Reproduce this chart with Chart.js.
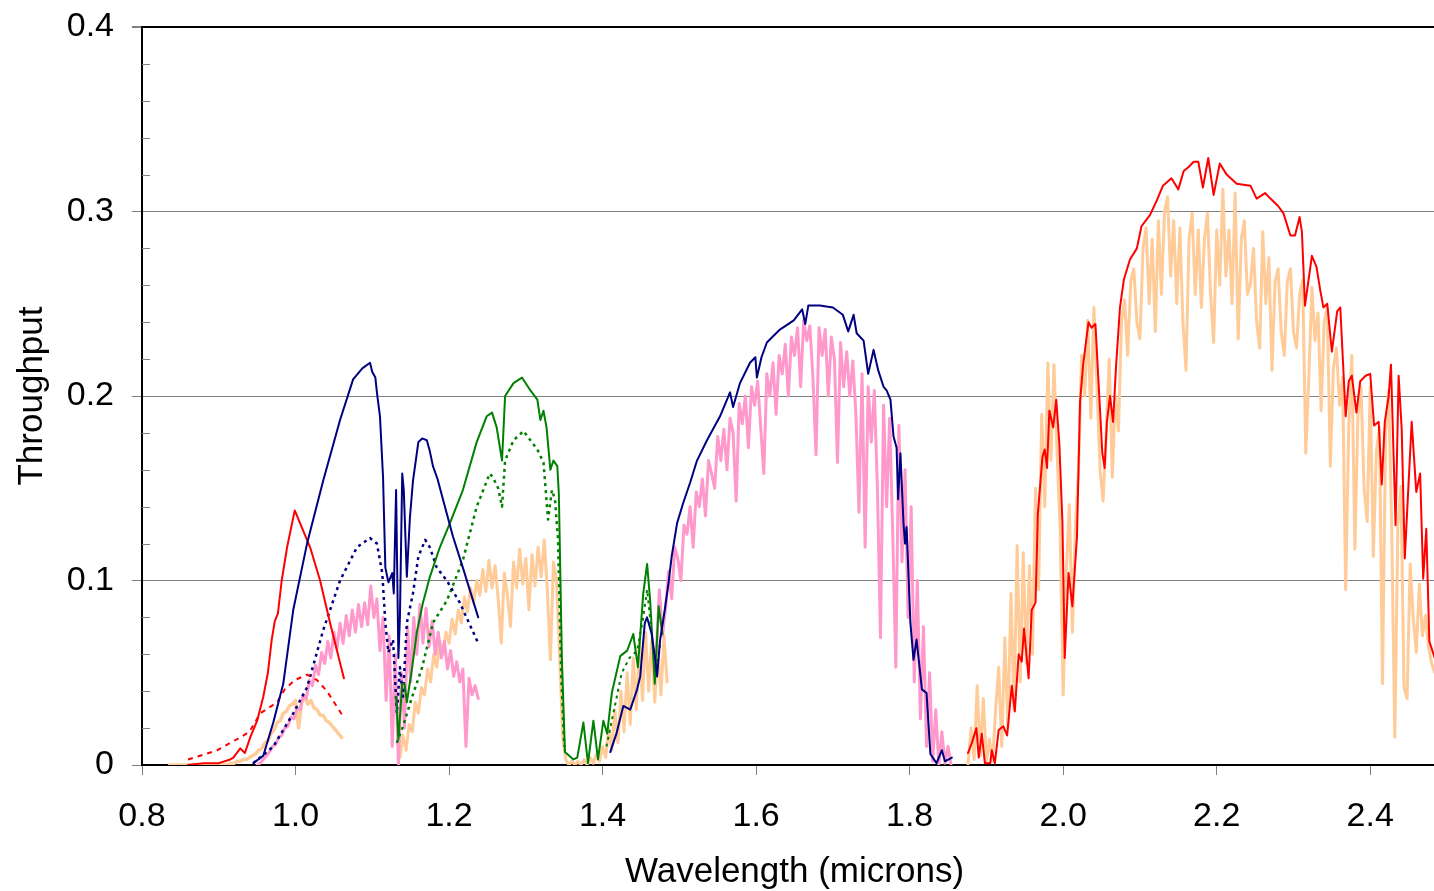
<!DOCTYPE html>
<html><head><meta charset="utf-8">
<script src="https://cdn.jsdelivr.net/npm/chart.js@4.4.1/dist/chart.umd.min.js"></script>
<style>
html,body{margin:0;padding:0;overflow:hidden;background:#fff;width:1434px;height:891px}
#wrap{position:absolute;left:0;top:0;width:1460px;height:891px}
</style></head>
<body><div id="wrap"><canvas id="c" width="1460" height="891"></canvas></div>
<script>
// ---------------- DATA ----------------
const xTickValues = [0.8, 1.0, 1.2, 1.4, 1.6, 1.8, 2.0, 2.2, 2.4];
const yTickValues = [0, 0.1, 0.2, 0.3, 0.4];
const yMinorValues = [0.02,0.04,0.06,0.08,0.12,0.14,0.16,0.18,0.22,0.24,0.26,0.28,0.32,0.34,0.36,0.38];

// Red solid (Z filter)
const redZWave = [0.860,0.880,0.900,0.915,0.919,0.928,0.934,0.941,0.950,0.958,0.964,0.969,0.973,0.977,0.982,0.989,0.999,1.019,1.032,1.045,1.063];
const redZThru = [0.000,0.001,0.001,0.003,0.004,0.009,0.0065,0.015,0.024,0.037,0.050,0.068,0.078,0.082,0.100,0.118,0.138,0.118,0.100,0.077,0.047];
// Red dashed (Z)
const redZDashWave = [0.860,0.898,0.928,0.940,0.954,0.976,0.986,0.999,1.015,1.028,1.041,1.061];
const redZDashThru = [0.003,0.008,0.015,0.018,0.028,0.034,0.041,0.046,0.049,0.046,0.040,0.027];

// Navy solid (Y band)
const navyYWave = [0.945,0.958,0.971,0.984,0.997,1.015,1.036,1.058,1.075,1.087,1.097,1.100,1.104,1.106,1.110,1.114,1.117,1.121,1.126,1.128,1.131,1.134,1.136,1.139,1.141,1.145,1.149,1.153,1.160,1.165,1.171,1.175,1.179,1.185,1.192,1.205,1.218,1.238];
const navyYThru = [0.001,0.005,0.023,0.044,0.084,0.120,0.154,0.187,0.209,0.215,0.218,0.213,0.210,0.202,0.189,0.156,0.107,0.099,0.104,0.093,0.149,0.058,0.080,0.158,0.149,0.102,0.134,0.154,0.175,0.177,0.176,0.170,0.162,0.155,0.144,0.124,0.107,0.080];
// Navy dotted (Y band)
const navyDotYWave = [0.945,0.971,0.997,1.015,1.036,1.058,1.080,1.097,1.106,1.113,1.117,1.121,1.127,1.132,1.136,1.140,1.145,1.153,1.160,1.169,1.175,1.184,1.197,1.214,1.238];
const navyDotYThru = [0.001,0.010,0.028,0.042,0.073,0.100,0.118,0.123,0.120,0.104,0.077,0.061,0.068,0.028,0.053,0.037,0.077,0.093,0.113,0.122,0.118,0.107,0.100,0.088,0.066];

// Green solid (J band)
const greenJWave = [1.131,1.134,1.139,1.142,1.145,1.152,1.158,1.166,1.175,1.188,1.201,1.218,1.236,1.249,1.256,1.262,1.269,1.273,1.284,1.295,1.306,1.315,1.319,1.323,1.327,1.332,1.336,1.341,1.343,1.347,1.351,1.362,1.367,1.375,1.381,1.388,1.394,1.401,1.406,1.412,1.423,1.432,1.440,1.446,1.453,1.458,1.462,1.468,1.473,1.478];
const greenJThru = [0.037,0.014,0.044,0.044,0.034,0.053,0.072,0.088,0.102,0.118,0.131,0.149,0.175,0.189,0.191,0.183,0.165,0.200,0.207,0.210,0.203,0.198,0.187,0.192,0.183,0.160,0.165,0.162,0.147,0.057,0.007,0.003,0.004,0.023,0.001,0.024,0.003,0.024,0.017,0.039,0.059,0.062,0.071,0.053,0.093,0.109,0.089,0.044,0.086,0.071];
// Green dotted (J band)
const greenDotWave = [1.132,1.140,1.152,1.165,1.179,1.197,1.218,1.236,1.253,1.257,1.264,1.269,1.273,1.284,1.297,1.306,1.315,1.323,1.329,1.334,1.338,1.342,1.346,1.350];
const greenDotThru = [0.012,0.021,0.037,0.053,0.077,0.089,0.111,0.140,0.158,0.156,0.150,0.140,0.165,0.176,0.181,0.176,0.171,0.164,0.133,0.149,0.144,0.122,0.050,0.010];
const greenDotHWave = [1.405,1.415,1.425,1.435,1.445,1.453,1.458,1.464,1.470,1.475];
const greenDotHThru = [0.010,0.030,0.050,0.058,0.062,0.080,0.095,0.071,0.050,0.065];

// Navy solid (H band)
const navyHWave = [1.410,1.418,1.427,1.436,1.445,1.449,1.455,1.458,1.464,1.468,1.471,1.475,1.481,1.486,1.490,1.497,1.505,1.514,1.523,1.536,1.553,1.566,1.570,1.579,1.592,1.599,1.601,1.607,1.614,1.631,1.649,1.660,1.664,1.668,1.683,1.700,1.713,1.720,1.727,1.731,1.740,1.746,1.753,1.759,1.766,1.770,1.775,1.779,1.783,1.785,1.788,1.792,1.794,1.796,1.801,1.805,1.809,1.816,1.822,1.827,1.835,1.842,1.846,1.855];
const navyHThru = [0.007,0.017,0.032,0.030,0.041,0.048,0.077,0.080,0.071,0.059,0.048,0.068,0.084,0.099,0.113,0.131,0.142,0.153,0.165,0.176,0.189,0.202,0.194,0.207,0.218,0.221,0.210,0.221,0.229,0.236,0.241,0.247,0.239,0.249,0.249,0.248,0.244,0.235,0.244,0.234,0.230,0.212,0.225,0.214,0.205,0.203,0.198,0.178,0.172,0.144,0.169,0.131,0.120,0.129,0.077,0.057,0.068,0.041,0.039,0.006,0.001,0.008,0.002,0.004];

// Red solid (K band)
const redKWave = [1.876,1.881,1.887,1.890,1.894,1.898,1.905,1.907,1.911,1.916,1.922,1.927,1.933,1.937,1.942,1.946,1.949,1.955,1.959,1.964,1.967,1.973,1.976,1.979,1.982,1.987,1.991,1.995,1.999,2.002,2.007,2.012,2.018,2.022,2.026,2.033,2.037,2.042,2.046,2.051,2.054,2.057,2.061,2.065,2.069,2.074,2.079,2.087,2.096,2.102,2.113,2.122,2.130,2.141,2.150,2.157,2.163,2.170,2.176,2.182,2.189,2.196,2.204,2.213,2.226,2.244,2.252,2.263,2.270,2.280,2.287,2.296,2.302,2.308,2.311,2.315,2.324,2.330,2.335,2.339,2.344,2.350,2.357,2.361,2.368,2.372,2.376,2.382,2.387,2.394,2.400,2.405,2.411,2.415,2.419,2.424,2.427,2.430,2.433,2.437,2.441,2.445,2.454,2.460,2.465,2.469,2.473,2.477,2.484];
const redKThru = [0.0065,0.012,0.020,0.004,0.017,0.001,0.001,0.008,0.001,0.019,0.021,0.016,0.043,0.029,0.060,0.056,0.074,0.047,0.084,0.088,0.136,0.167,0.171,0.161,0.192,0.183,0.198,0.174,0.132,0.058,0.104,0.086,0.124,0.197,0.217,0.240,0.237,0.239,0.208,0.169,0.161,0.186,0.200,0.186,0.217,0.248,0.263,0.274,0.280,0.292,0.298,0.306,0.314,0.318,0.312,0.322,0.324,0.327,0.327,0.313,0.329,0.309,0.326,0.320,0.315,0.314,0.307,0.310,0.307,0.303,0.299,0.287,0.287,0.297,0.289,0.249,0.276,0.270,0.257,0.248,0.250,0.224,0.246,0.248,0.189,0.208,0.211,0.191,0.208,0.211,0.212,0.184,0.186,0.152,0.186,0.200,0.217,0.174,0.130,0.211,0.182,0.112,0.186,0.148,0.158,0.101,0.128,0.067,0.058];

// Noisy spectra on regular wavelength grids (start, step) with read values
const pinkYStart = 0.950, pinkYStep = 0.004;
const pinkYThru = [0.000,0.001,0.003,0.005,0.007,0.010,0.011,0.015,0.016,0.020,0.021,0.026,0.025,0.031,0.030,0.038,0.036,0.046,0.043,0.054,0.049,0.061,0.055,0.067,0.058,0.072,0.063,0.077,0.066,0.081,0.070,0.084,0.072,0.087,0.075,0.088,0.076,0.097,0.080,0.090,0.062,0.080,0.035,0.070,0.010,0.060,0.000,0.050,0.020,0.075,0.045,0.080,0.060,0.087,0.066,0.085,0.064,0.078,0.060,0.072,0.058,0.067,0.052,0.062,0.048,0.056,0.045,0.052,0.010,0.047,0.038,0.043,0.036];

const peachZStart = 0.836, peachZStep = 0.004;
const peachZThru = [0,0,0,0,0,0,0,0,0,0,0,0,0,0,0,0,0,0,0,0,0.001,0.001,0.002,0.002,0.003,0.003,0.004,0.005,0.006,0.008,0.009,0.012,0.013,0.017,0.019,0.023,0.024,0.028,0.029,0.032,0.033,0.035,0.020,0.034,0.037,0.033,0.035,0.031,0.030,0.027,0.027,0.024,0.023,0.021,0.019,0.017,0.015];

const peachJStart = 1.136, peachJStep = 0.004;
const peachJThru = [0.004,0.016,0.008,0.022,0.018,0.034,0.028,0.042,0.038,0.052,0.045,0.060,0.053,0.067,0.060,0.072,0.066,0.079,0.071,0.084,0.077,0.091,0.083,0.096,0.088,0.100,0.092,0.106,0.094,0.111,0.096,0.108,0.090,0.066,0.104,0.092,0.075,0.110,0.096,0.117,0.098,0.112,0.084,0.114,0.097,0.118,0.102,0.122,0.095,0.057,0.110,0.100,0.060,0.015,0.003,0.000,0.002,0.000,0.002,0.000,0.003,0.000,0.004,0.001,0.006,0.002,0.010,0.004,0.020,0.008,0.030,0.012,0.040,0.018,0.050,0.022,0.058,0.030,0.066,0.035,0.072,0.040,0.068,0.034,0.065,0.038,0.070,0.045];

const pinkHStart = 1.470, pinkHStep = 0.004;
const pinkHThru = [0.060,0.095,0.070,0.085,0.105,0.090,0.118,0.112,0.100,0.130,0.125,0.140,0.118,0.148,0.140,0.155,0.135,0.165,0.158,0.150,0.178,0.165,0.182,0.160,0.188,0.180,0.143,0.196,0.185,0.200,0.172,0.205,0.195,0.208,0.183,0.158,0.212,0.200,0.218,0.190,0.222,0.212,0.228,0.200,0.232,0.222,0.237,0.205,0.241,0.230,0.238,0.210,0.168,0.237,0.222,0.236,0.200,0.232,0.220,0.164,0.229,0.205,0.224,0.200,0.219,0.190,0.137,0.212,0.118,0.205,0.175,0.203,0.150,0.069,0.195,0.140,0.188,0.125,0.053,0.184,0.110,0.160,0.080,0.140,0.045,0.100,0.025,0.075,0.010,0.050,0.002,0.030,0.000,0.018,0.001,0.010,0.000];

const peachKStart = 1.876, peachKStep = 0.004;
const peachKThru = [0.000,0.020,0.003,0.043,0.005,0.036,0.002,0.014,0.002,0.030,0.053,0.010,0.069,0.020,0.093,0.030,0.119,0.045,0.115,0.055,0.108,0.060,0.150,0.095,0.190,0.140,0.218,0.165,0.217,0.170,0.128,0.038,0.104,0.141,0.072,0.130,0.160,0.222,0.200,0.241,0.188,0.248,0.205,0.160,0.143,0.180,0.220,0.156,0.200,0.181,0.240,0.252,0.222,0.262,0.269,0.240,0.231,0.280,0.291,0.250,0.285,0.235,0.295,0.255,0.300,0.308,0.265,0.295,0.250,0.291,0.240,0.214,0.285,0.299,0.255,0.290,0.248,0.285,0.299,0.255,0.229,0.290,0.260,0.312,0.265,0.290,0.250,0.310,0.231,0.285,0.295,0.255,0.261,0.280,0.240,0.226,0.289,0.250,0.275,0.214,0.262,0.269,0.235,0.222,0.262,0.269,0.235,0.226,0.255,0.263,0.169,0.210,0.259,0.230,0.245,0.192,0.240,0.248,0.162,0.215,0.226,0.195,0.210,0.095,0.183,0.222,0.117,0.190,0.205,0.150,0.132,0.205,0.113,0.170,0.183,0.044,0.180,0.203,0.128,0.015,0.130,0.151,0.042,0.036,0.109,0.080,0.061,0.098,0.070,0.081,0.064,0.055,0.050];

// ---------------- BUILD ----------------
const pts = (w, t) => w.map((x, i) => ({x: x, y: t[i]}));
const gridPts = (start, step, t) => t.map((y, i) => ({x: +(start + i * step).toFixed(4), y: y}));

const RED = '#FF0000', NAVY = '#000080', GREEN = '#008000', PINK = '#FF99CC', PEACH = '#FFCC99';
const FONT = "'Liberation Sans', Arial, Helvetica, sans-serif";

function ds(data, color, width, dash, order) {
  return {data, borderColor: color, backgroundColor: color, borderWidth: width,
    borderDash: dash || [], order, pointRadius: 0, fill: false, tension: 0,
    borderJoinStyle: 'round', borderCapStyle: dash ? 'butt' : 'round'};
}

const datasets = [
  ds(pts(redKWave, redKThru), RED, 2, null, 1),
  ds(pts(navyHWave, navyHThru), NAVY, 2, null, 1),
  ds(pts(greenJWave, greenJThru), GREEN, 2, null, 2),
  ds(pts(navyYWave, navyYThru), NAVY, 2, null, 1),
  ds(pts(redZWave, redZThru), RED, 2, null, 1),
  ds(pts(redZDashWave, redZDashThru), RED, 2, [5, 5], 3),
  ds(pts(navyDotYWave, navyDotYThru), NAVY, 2.5, [3, 4], 3),
  ds(pts(greenDotWave, greenDotThru), GREEN, 2.5, [3, 4], 3),
  ds(pts(greenDotHWave, greenDotHThru), GREEN, 2, [3, 4], 3),
  ds(gridPts(pinkYStart, pinkYStep, pinkYThru), PINK, 3, null, 8),
  ds(gridPts(pinkHStart, pinkHStep, pinkHThru), PINK, 3, null, 8),
  ds(gridPts(peachZStart, peachZStep, peachZThru), PEACH, 3.5, null, 9),
  ds(gridPts(peachJStart, peachJStep, peachJThru), PEACH, 3, null, 9),
  ds(gridPts(peachKStart, peachKStep, peachKThru), PEACH, 3, null, 9)
];

const minorTicks = {
  id: 'minorTicks',
  afterDraw(chart) {
    const y = chart.scales.y, ctx = chart.ctx;
    ctx.save();
    ctx.strokeStyle = '#808080';
    ctx.lineWidth = 1;
    yMinorValues.forEach(v => {
      const py = Math.round(y.getPixelForValue(v)) + 0.5;
      ctx.beginPath();
      ctx.moveTo(chart.chartArea.left, py);
      ctx.lineTo(chart.chartArea.left + 8, py);
      ctx.stroke();
    });
    ctx.restore();
  }
};

new Chart(document.getElementById('c'), {
  type: 'scatter',
  data: {datasets},
  options: {
    responsive: false, animation: false, devicePixelRatio: 1,
    showLine: true,
    layout: {padding: {left: 0, right: 13, top: 27, bottom: 0}},
    plugins: {legend: {display: false}, tooltip: {enabled: false}},
    scales: {
      x: {
        type: 'linear', position: 'bottom', min: 0.8, max: 2.5,
        afterBuildTicks: s => { s.ticks = xTickValues.map(v => ({value: v})); },
        afterFit: s => { s.height = 126; },
        ticks: {font: {family: FONT, size: 34}, color: '#000', padding: 21, maxRotation: 0, autoSkip: false,
          callback: v => Number(v).toFixed(1)},
        grid: {drawOnChartArea: false, drawTicks: true, tickLength: 10, color: '#808080', tickColor: '#808080', lineWidth: 1},
        border: {display: true, color: '#000', width: 2},
        title: {display: true, text: 'Wavelength (microns)', color: '#000',
          font: {family: FONT, size: 35, lineHeight: 1}, padding: {top: 0, bottom: 1}}
      },
      y: {
        type: 'linear', min: 0, max: 0.4,
        afterBuildTicks: s => { s.ticks = yTickValues.map(v => ({value: v})); },
        afterFit: s => { s.width = 142; },
        ticks: {font: {family: FONT, size: 34, lineHeight: 0.5}, color: '#000', padding: 18,
          callback: v => (v === 0 ? '0' : Number(v).toFixed(1))},
        grid: {
          drawOnChartArea: true, drawTicks: true, tickLength: 10, tickColor: '#808080',
          color: c => (c.tick && c.tick.value >= 0.399) ? '#000' : (c.tick && c.tick.value === 0 ? 'rgba(0,0,0,0)' : '#808080'),
          lineWidth: c => (c.tick && c.tick.value >= 0.399) ? 2 : 1
        },
        border: {display: true, color: '#000', width: 2},
        title: {display: true, text: 'Throughput', color: '#000',
          font: {family: FONT, size: 35, lineHeight: 1.2}, padding: {top: 11, bottom: 0}}
      }
    }
  },
  plugins: [minorTicks]
});
</script>
</body></html>
